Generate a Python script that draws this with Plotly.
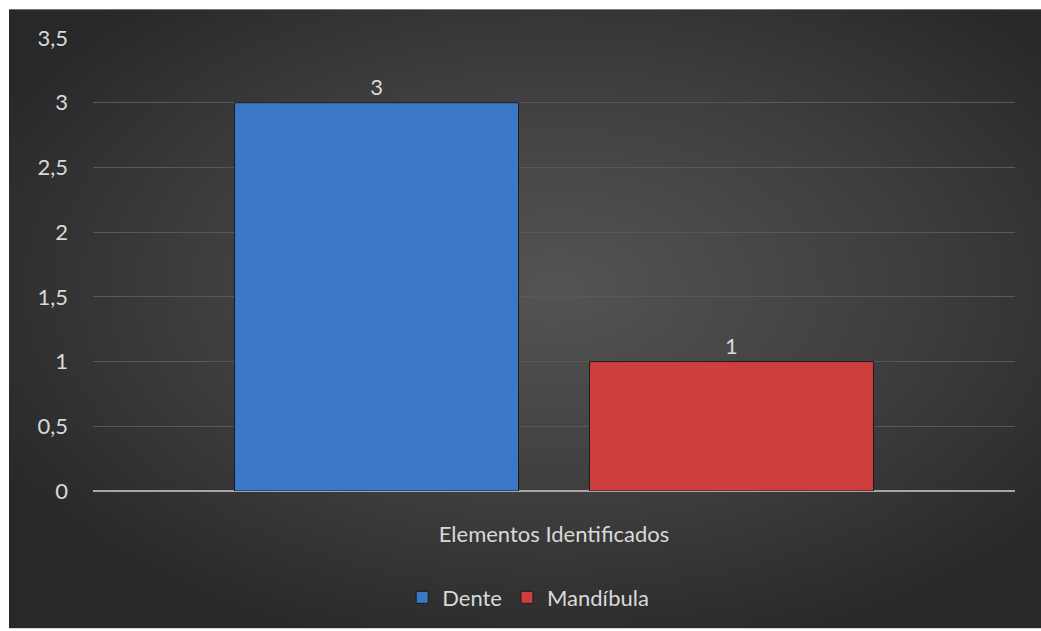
import base64
import plotly.graph_objects as go

categories = ["Elementos Identificados"]
series_names = ["Dente", "Mandíbula"]
dente_values = [3]
mandibula_values = [1]
series_colors = ["#3b78c8", "#cd3f3d"]

W, H = 1041, 631
L, R, T, B = 93, 26, 38, 138
pw, ph = W - L - R, H - T - B
OFF = 9  # white frame at top/left

bw, bh = W - OFF, H - OFF
svg = f'''<svg xmlns="http://www.w3.org/2000/svg" width="{bw}" height="{bh}" viewBox="0 0 {bw} {bh}" preserveAspectRatio="none">
<defs><radialGradient id="g" cx="0.53" cy="0.45" r="0.62" gradientUnits="objectBoundingBox">
<stop offset="0" stop-color="#545454"/><stop offset="0.55" stop-color="#3e3e3e"/><stop offset="1" stop-color="#282828"/>
</radialGradient></defs><rect x="0" y="0" width="{bw}" height="{bh}" fill="url(#g)"/></svg>'''
bg_src = "data:image/svg+xml;base64," + base64.b64encode(svg.encode()).decode()

font = dict(family="Lato, 'Open Sans', sans-serif", size=22, color="#d9d9d9")

fig = go.Figure()
for name, vals, col in [(series_names[0], dente_values, series_colors[0]),
                        (series_names[1], mandibula_values, series_colors[1])]:
    fig.add_trace(go.Bar(
        x=categories, y=vals, name=name,
        marker=dict(color=col, line=dict(color="#1c1c1c", width=1)),
        text=[str(v) for v in vals], textposition="outside",
        textfont=font, cliponaxis=False,
    ))

x0 = (OFF - L) / pw
x1 = (W - L) / pw
ytop = (T + ph - OFF) / ph
ybot = -B / ph

fig.update_layout(
    width=W, height=H,
    margin=dict(l=L, r=R, t=T, b=B),
    paper_bgcolor="white", plot_bgcolor="rgba(0,0,0,0)",
    separators=", ",
    barmode="group", bargap=0.23, bargroupgap=0.2,
    font=font,
    showlegend=True,
    legend=dict(orientation="h", x=0.472, xanchor="center", y=(T + ph - 600) / ph,
                yanchor="middle", font=font, bgcolor="rgba(0,0,0,0)", itemwidth=30),
    images=[dict(source=bg_src, xref="paper", yref="paper", x=x0, y=ytop,
                 sizex=x1 - x0, sizey=ytop - ybot, sizing="stretch",
                 xanchor="left", yanchor="top", layer="below")],
    xaxis=dict(showgrid=False, showline=False, zeroline=False,
               tickfont=font, ticklabelstandoff=28, ticks=""),
    yaxis=dict(range=[0, 3.5], dtick=0.5, tickformat=",.1~f", showgrid=True,
               gridcolor="#585858", gridwidth=1, zeroline=True,
               zerolinecolor="#a6a6a6", zerolinewidth=2,
               showline=False, tickfont=font, ticklabelstandoff=24, ticks=""),
)

fig.write_html("out.html", config={"displayModeBar": False},
               post_script=("document.body.style.margin='0';"
                            "document.body.style.overflow='hidden';"
                            "document.documentElement.style.background='#282828';"
                            "document.body.style.background='#282828';"))
